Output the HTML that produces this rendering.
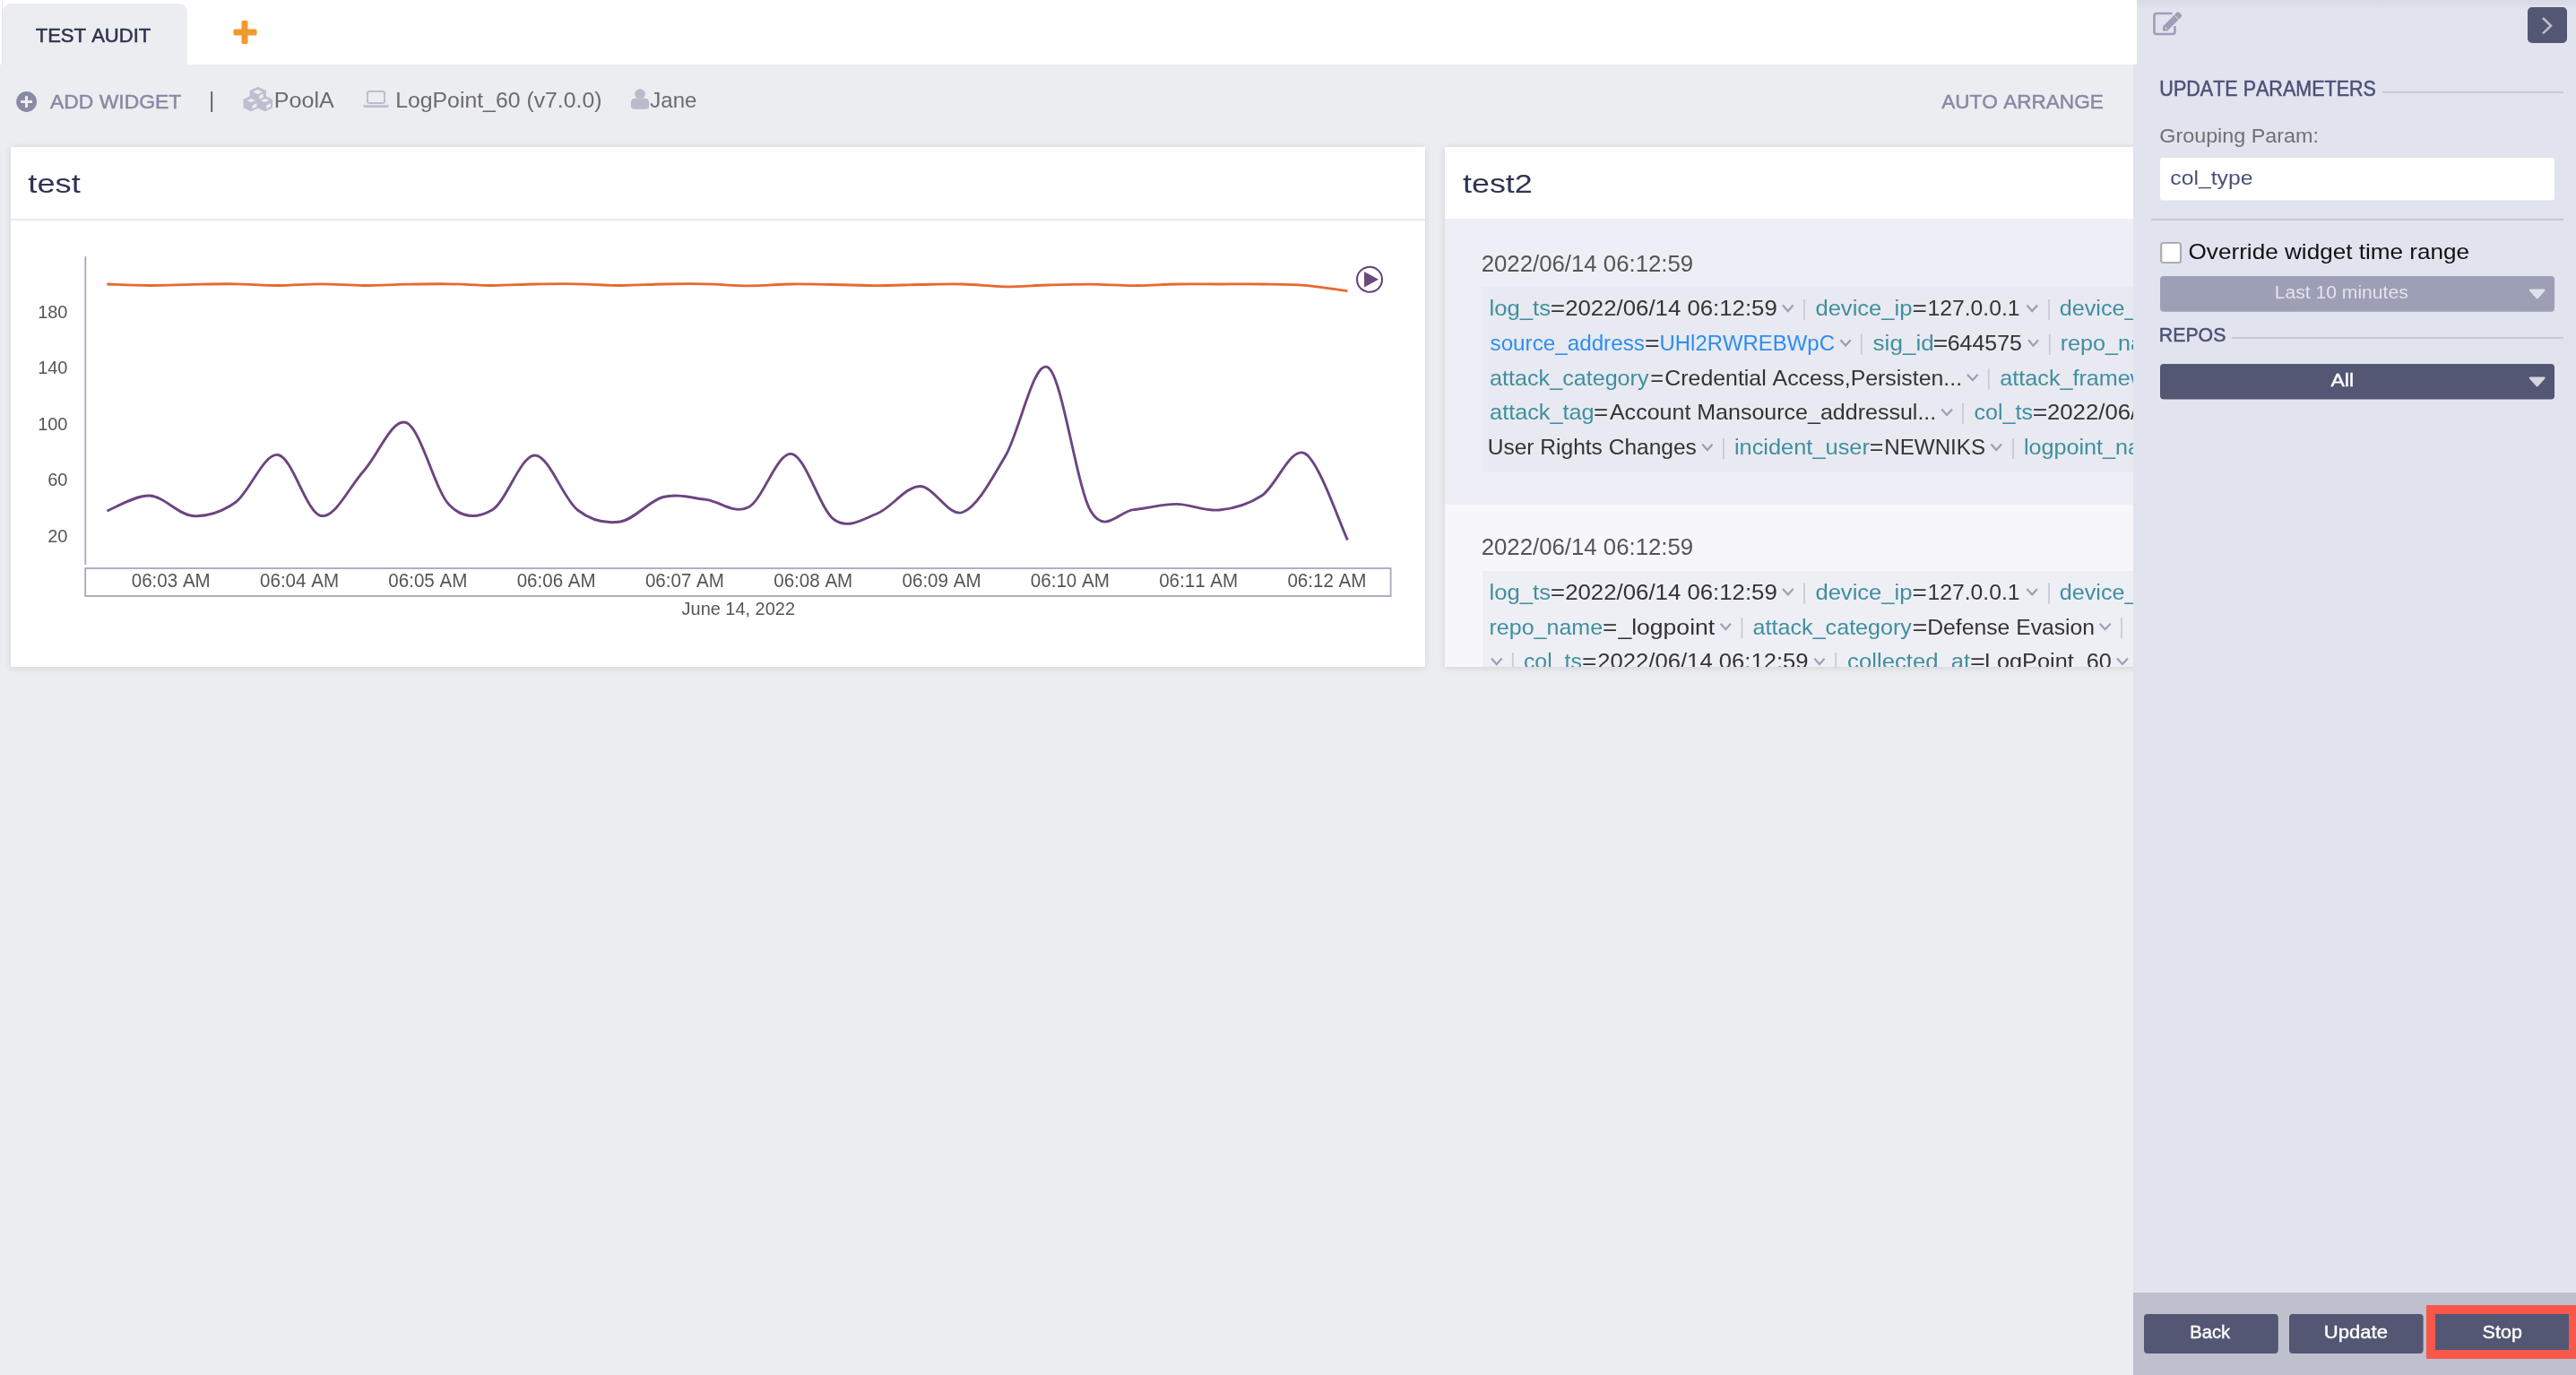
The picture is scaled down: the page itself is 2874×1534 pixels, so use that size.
<!DOCTYPE html>
<html><head><meta charset="utf-8"><title>Dashboard</title>
<style>
html,body{margin:0;padding:0}
body{width:2874px;height:1534px;overflow:hidden;position:relative;background:#ecedf1;font-family:"Liberation Sans",sans-serif}
.a{position:absolute}
svg{will-change:transform}
svg text{font-family:"Liberation Sans",sans-serif;font-kerning:none;white-space:pre}
</style></head><body>

<div class="a" style="left:0;top:0;width:2384px;height:72px;background:#ffffff"></div>
<div class="a" style="left:2px;top:0;width:1px;height:72px;background:#e4e5ea"></div>
<div class="a" style="left:3px;top:4px;width:206px;height:68px;background:#ecedf1;border-radius:9px 9px 0 0"></div>
<div class="a" style="left:12px;top:164px;width:1578px;height:580px;background:#ffffff;box-shadow:0 1px 7px rgba(60,60,70,0.16)"></div>
<div class="a" style="left:12px;top:243.5px;width:1578px;height:2px;background:#e9eaee"></div>
<div class="a" style="left:1612px;top:164px;width:1300px;height:580px;background:#f7f7fb;box-shadow:0 1px 7px rgba(60,60,70,0.16);overflow:hidden"><div class="a" style="left:0;top:0;width:1300px;height:80px;background:#ffffff"></div><div class="a" style="left:0;top:80px;width:1300px;height:319px;background:#eeeff6"></div><div class="a" style="left:42px;top:156px;width:1300px;height:207px;background:#e8e9f1"></div><div class="a" style="left:42px;top:473px;width:1300px;height:120px;background:#eeeef5"></div></div>
<svg class="a" style="left:0;top:0" width="2874" height="1534">
<defs><clipPath id="w2"><rect x="1612" y="164" width="768" height="580"/></clipPath></defs>
<text x="39.70" y="46.90" font-size="22" fill="#2e3450" textLength="128.60" lengthAdjust="spacingAndGlyphs" stroke="#2e3450" stroke-width="0.55">TEST AUDIT</text>
<rect x="269.5" y="23" width="7" height="26" rx="1.5" fill="#f0992e"/>
<rect x="260.5" y="32.5" width="26" height="7" rx="1.5" fill="#f0992e"/>
<circle cx="29.6" cy="113.5" r="11.4" fill="#888ba3"/>
<rect x="23.1" y="112" width="12.9" height="3" fill="#ecedf1"/>
<rect x="28" y="107.2" width="3" height="12.8" fill="#ecedf1"/>
<text x="56.06" y="120.80" font-size="21.6" fill="#868aa5" textLength="146.17" lengthAdjust="spacingAndGlyphs" stroke="#868aa5" stroke-width="0.5">ADD WIDGET</text>
<rect x="235.3" y="102" width="1.8" height="23" fill="#5a5a5a"/>
<path d="M287.8,97.6 L296.2,101.4 L296.2,110 L287.8,113.8 L279.4,110 L279.4,101.4 Z" fill="#bcbfcf" stroke="#bcbfcf" stroke-width="1.4" stroke-linejoin="round"/>
<path d="M280,107.6 L287.8,111.4 L287.8,119.8 L280,123.6 L272.2,119.8 L272.2,111.4 Z" fill="#bcbfcf" stroke="#bcbfcf" stroke-width="1.4" stroke-linejoin="round"/>
<path d="M295.6,107.6 L303.4,111.4 L303.4,119.8 L295.6,123.6 L287.8,119.8 L287.8,111.4 Z" fill="#bcbfcf" stroke="#bcbfcf" stroke-width="1.4" stroke-linejoin="round"/>
<path d="M287.5,99.9 L293,102.4 L287.5,104.9 L282,102.4 Z M289.2,106.6 L293.8,104.4 L293.8,108.6 L289.2,110.6 Z M280.1,109.9 L285,112 L280.1,114.1 L275.2,112 Z M281.5,117.6 L286.4,115.2 L286.4,119 L281.5,121.4 Z M295.7,109.9 L300.6,112 L295.7,114.1 L290.8,112 Z M297.1,117.6 L302,115.2 L302,119 L297.1,121.4 Z" fill="#eceef3"/>
<text x="305.84" y="120.00" font-size="24.2" fill="#6b6b6b" textLength="67.01" lengthAdjust="spacingAndGlyphs">PoolA</text>
<rect x="410" y="102" width="19" height="13" rx="2" fill="none" stroke="#bcbfcf" stroke-width="2"/>
<path d="M405,117.2 L434,117.2 L433,119.4 Q432.6,120 431.6,120 L407.4,120 Q406.4,120 406,119.4 Z" fill="#bcbfcf"/>
<text x="441.16" y="120.00" font-size="24.2" fill="#6b6b6b" textLength="230.37" lengthAdjust="spacingAndGlyphs">LogPoint_60 (v7.0.0)</text>
<circle cx="714.1" cy="105" r="5.8" fill="#b9bbca"/>
<path d="M704,118 L704,114.5 Q704,109.8 709,109.8 L711,109.8 Q714.1,112 717.2,109.8 L719.2,109.8 Q724.2,109.8 724.2,114.5 L724.2,118 Q724.2,121.8 720.5,121.8 L707.7,121.8 Q704,121.8 704,118 Z" fill="#b9bbca"/>
<text x="725.32" y="120.00" font-size="24.2" fill="#6b6b6b" textLength="52.14" lengthAdjust="spacingAndGlyphs">Jane</text>
<text x="2166.16" y="120.90" font-size="21.6" fill="#868aa5" textLength="180.61" lengthAdjust="spacingAndGlyphs" stroke="#868aa5" stroke-width="0.5">AUTO ARRANGE</text>
<text x="31.35" y="215.00" font-size="29.8" fill="#2e3450" textLength="58.41" lengthAdjust="spacingAndGlyphs">test</text>
<rect x="94.4" y="286" width="1.8" height="344" fill="#a7aabe"/>
<rect x="95.2" y="634" width="1456.4" height="31" fill="none" stroke="#a4a8bb" stroke-width="1.8"/>
<text x="42.18" y="354.70" font-size="20.9" fill="#555555" textLength="33.30" lengthAdjust="spacingAndGlyphs">180</text>
<text x="42.18" y="417.20" font-size="20.9" fill="#555555" textLength="33.30" lengthAdjust="spacingAndGlyphs">140</text>
<text x="42.18" y="479.70" font-size="20.9" fill="#555555" textLength="33.30" lengthAdjust="spacingAndGlyphs">100</text>
<text x="53.18" y="542.20" font-size="20.9" fill="#555555" textLength="22.30" lengthAdjust="spacingAndGlyphs">60</text>
<text x="53.19" y="604.70" font-size="20.9" fill="#555555" textLength="22.29" lengthAdjust="spacingAndGlyphs">20</text>
<text x="146.75" y="654.80" font-size="21.3" fill="#555555" textLength="87.99" lengthAdjust="spacingAndGlyphs">06:03 AM</text>
<text x="290.05" y="654.80" font-size="21.3" fill="#555555" textLength="87.99" lengthAdjust="spacingAndGlyphs">06:04 AM</text>
<text x="433.35" y="654.80" font-size="21.3" fill="#555555" textLength="87.99" lengthAdjust="spacingAndGlyphs">06:05 AM</text>
<text x="576.65" y="654.80" font-size="21.3" fill="#555555" textLength="87.99" lengthAdjust="spacingAndGlyphs">06:06 AM</text>
<text x="719.95" y="654.80" font-size="21.3" fill="#555555" textLength="87.99" lengthAdjust="spacingAndGlyphs">06:07 AM</text>
<text x="863.25" y="654.80" font-size="21.3" fill="#555555" textLength="87.99" lengthAdjust="spacingAndGlyphs">06:08 AM</text>
<text x="1006.55" y="654.80" font-size="21.3" fill="#555555" textLength="87.99" lengthAdjust="spacingAndGlyphs">06:09 AM</text>
<text x="1149.85" y="654.80" font-size="21.3" fill="#555555" textLength="87.99" lengthAdjust="spacingAndGlyphs">06:10 AM</text>
<text x="1293.15" y="654.80" font-size="21.3" fill="#555555" textLength="87.99" lengthAdjust="spacingAndGlyphs">06:11 AM</text>
<text x="1436.45" y="654.80" font-size="21.3" fill="#555555" textLength="87.99" lengthAdjust="spacingAndGlyphs">06:12 AM</text>
<text x="760.59" y="685.70" font-size="19.8" fill="#555555" textLength="126.41" lengthAdjust="spacingAndGlyphs">June 14, 2022</text>
<path d="M119.40,317.00 C127.35,317.25 151.22,318.45 167.13,318.50 C183.04,318.55 198.95,317.58 214.86,317.30 C230.76,317.02 246.67,316.60 262.58,316.80 C278.49,317.00 294.40,318.50 310.31,318.50 C326.22,318.50 342.13,316.80 358.04,316.80 C373.95,316.80 389.86,318.43 405.77,318.50 C421.67,318.57 437.58,317.48 453.49,317.20 C469.40,316.92 485.31,316.58 501.22,316.80 C517.13,317.02 533.04,318.47 548.95,318.50 C564.86,318.53 580.77,317.28 596.68,317.00 C612.59,316.72 628.49,316.55 644.40,316.80 C660.31,317.05 676.22,318.47 692.13,318.50 C708.04,318.53 723.95,317.28 739.86,317.00 C755.77,316.72 771.68,316.50 787.59,316.80 C803.50,317.10 819.40,318.77 835.31,318.80 C851.22,318.83 867.13,317.22 883.04,317.00 C898.95,316.78 914.86,317.23 930.77,317.50 C946.68,317.77 962.59,318.60 978.50,318.60 C994.41,318.60 1010.31,317.77 1026.22,317.50 C1042.13,317.23 1058.04,316.62 1073.95,317.00 C1089.86,317.38 1105.77,319.63 1121.68,319.80 C1137.59,319.97 1153.50,318.43 1169.41,318.00 C1185.32,317.57 1201.23,317.10 1217.13,317.20 C1233.04,317.30 1248.95,318.63 1264.86,318.60 C1280.77,318.57 1296.68,317.27 1312.59,317.00 C1328.50,316.73 1344.41,317.00 1360.32,317.00 C1376.23,317.00 1392.14,316.78 1408.04,317.00 C1423.95,317.22 1439.86,317.02 1455.77,318.30 C1471.68,319.58 1495.55,323.63 1503.50,324.70" fill="none" stroke="#e8692e" stroke-width="2.8" stroke-linejoin="round"/>
<path d="M119.40,570.00 C127.35,567.17 151.22,552.08 167.13,553.00 C183.04,553.92 198.95,574.25 214.86,575.50 C230.76,576.75 246.67,571.83 262.58,560.50 C278.49,549.17 294.40,505.00 310.31,507.50 C326.22,510.00 342.13,572.52 358.04,575.50 C373.95,578.48 389.86,542.72 405.77,525.40 C421.67,508.08 437.58,465.28 453.49,471.60 C469.40,477.92 485.31,547.07 501.22,563.30 C517.13,579.53 533.04,578.22 548.95,569.00 C564.86,559.78 580.77,508.00 596.68,508.00 C612.59,508.00 628.49,556.67 644.40,569.00 C660.31,581.33 676.22,584.42 692.13,582.00 C708.04,579.58 723.95,558.60 739.86,554.50 C755.77,550.40 771.68,555.52 787.59,557.40 C803.50,559.28 819.40,574.30 835.31,565.80 C851.22,557.30 867.13,504.07 883.04,506.40 C898.95,508.73 914.86,568.70 930.77,579.80 C946.68,590.90 962.59,579.22 978.50,573.00 C994.41,566.78 1010.31,542.75 1026.22,542.50 C1042.13,542.25 1058.04,577.12 1073.95,571.50 C1089.86,565.88 1105.77,535.72 1121.68,508.80 C1137.59,481.88 1153.50,399.70 1169.41,410.00 C1185.32,420.30 1201.23,544.17 1217.13,570.60 C1233.04,597.03 1248.95,569.97 1264.86,568.60 C1280.77,567.23 1296.68,562.33 1312.59,562.40 C1328.50,562.47 1344.41,570.62 1360.32,569.00 C1376.23,567.38 1392.14,563.22 1408.04,552.70 C1423.95,542.18 1439.86,497.60 1455.77,505.90 C1471.68,514.20 1495.55,586.40 1503.50,602.50" fill="none" stroke="#6b4580" stroke-width="2.9" stroke-linejoin="round"/>
<circle cx="1528" cy="311.8" r="14" fill="#ffffff" stroke="#653f78" stroke-width="2"/>
<path d="M1522,303 L1538,311.8 L1522,320.5 Z" fill="#6d4a7e"/>
<g clip-path="url(#w2)">
<text x="1631.96" y="215.00" font-size="29.8" fill="#2e3450" textLength="77.85" lengthAdjust="spacingAndGlyphs">test2</text>
<text x="1652.70" y="303.00" font-size="25.4" fill="#555555" textLength="236.52" lengthAdjust="spacingAndGlyphs">2022/06/14 06:12:59</text>
<text x="1661.47" y="352.40" font-size="24.2" fill="#3f8f9e" textLength="68.56" lengthAdjust="spacingAndGlyphs">log_ts</text>
<text x="1729.83" y="352.40" font-size="24.2" fill="#333333" textLength="16.35" lengthAdjust="spacingAndGlyphs">=</text>
<text x="1746.20" y="352.40" font-size="24.2" fill="#333333" textLength="236.62" lengthAdjust="spacingAndGlyphs">2022/06/14 06:12:59</text>
<path d="M1989.0,340.6 L1994.8,347.0 L2000.6,340.6" fill="none" stroke="#9c9eb3" stroke-width="2.2"/>
<rect x="2012.1" y="334.0" width="1.8" height="23.2" fill="#c9cad6"/>
<text x="2025.43" y="352.40" font-size="24.2" fill="#3f8f9e" textLength="108.05" lengthAdjust="spacingAndGlyphs">device_ip</text>
<text x="2133.43" y="352.40" font-size="24.2" fill="#333333" textLength="16.35" lengthAdjust="spacingAndGlyphs">=</text>
<text x="2150.52" y="352.40" font-size="24.2" fill="#333333" textLength="103.09" lengthAdjust="spacingAndGlyphs">127.0.0.1</text>
<path d="M2261.4,340.6 L2267.2,347.0 L2273.0,340.6" fill="none" stroke="#9c9eb3" stroke-width="2.2"/>
<rect x="2285.1" y="334.0" width="1.8" height="23.2" fill="#c9cad6"/>
<text x="2297.74" y="352.40" font-size="24.2" fill="#3f8f9e" textLength="149.71" lengthAdjust="spacingAndGlyphs">device_name</text>
<text x="1662.53" y="391.00" font-size="24.2" fill="#2b8ef2" textLength="172.35" lengthAdjust="spacingAndGlyphs">source_address</text>
<text x="1835.01" y="391.00" font-size="24.2" fill="#333333" textLength="16.59" lengthAdjust="spacingAndGlyphs">=</text>
<text x="1851.55" y="391.00" font-size="24.2" fill="#2b8ef2" textLength="195.36" lengthAdjust="spacingAndGlyphs">UHl2RWREBWpC</text>
<path d="M2053.4,379.2 L2059.1,385.6 L2064.8,379.2" fill="none" stroke="#9c9eb3" stroke-width="2.2"/>
<rect x="2075.9" y="372.6" width="1.8" height="23.2" fill="#c9cad6"/>
<text x="2089.57" y="391.00" font-size="24.2" fill="#3f8f9e" textLength="68.11" lengthAdjust="spacingAndGlyphs">sig_id</text>
<text x="2156.59" y="391.00" font-size="24.2" fill="#333333" textLength="16.83" lengthAdjust="spacingAndGlyphs">=</text>
<text x="2172.74" y="391.00" font-size="24.2" fill="#333333" textLength="83.11" lengthAdjust="spacingAndGlyphs">644575</text>
<path d="M2263.0,379.2 L2268.5,385.6 L2274.0,379.2" fill="none" stroke="#9c9eb3" stroke-width="2.2"/>
<rect x="2285.9" y="372.6" width="1.8" height="23.2" fill="#c9cad6"/>
<text x="2298.73" y="391.00" font-size="24.2" fill="#3f8f9e" textLength="127.33" lengthAdjust="spacingAndGlyphs">repo_name</text>
<text x="1662.13" y="429.60" font-size="24.2" fill="#3f8f9e" textLength="177.42" lengthAdjust="spacingAndGlyphs">attack_category</text>
<text x="1841.35" y="429.60" font-size="24.2" fill="#333333" textLength="14.90" lengthAdjust="spacingAndGlyphs">=</text>
<text x="1857.34" y="429.60" font-size="24.2" fill="#333333" textLength="331.73" lengthAdjust="spacingAndGlyphs">Credential Access,Persisten...</text>
<path d="M2195.0,417.8 L2200.8,424.2 L2206.6,417.8" fill="none" stroke="#9c9eb3" stroke-width="2.2"/>
<rect x="2217.9" y="411.2" width="1.8" height="23.2" fill="#c9cad6"/>
<text x="2231.33" y="429.60" font-size="24.2" fill="#3f8f9e" textLength="198.62" lengthAdjust="spacingAndGlyphs">attack_framework</text>
<text x="1662.13" y="468.40" font-size="24.2" fill="#3f8f9e" textLength="116.50" lengthAdjust="spacingAndGlyphs">attack_tag</text>
<text x="1778.14" y="468.40" font-size="24.2" fill="#333333" textLength="16.23" lengthAdjust="spacingAndGlyphs">=</text>
<text x="1795.95" y="468.40" font-size="24.2" fill="#333333" textLength="364.33" lengthAdjust="spacingAndGlyphs">Account Mansource_addressul...</text>
<path d="M2166.2,456.6 L2172.1,463.0 L2178.0,456.6" fill="none" stroke="#9c9eb3" stroke-width="2.2"/>
<rect x="2189.1" y="450.0" width="1.8" height="23.2" fill="#c9cad6"/>
<text x="2202.54" y="468.40" font-size="24.2" fill="#3f8f9e" textLength="65.37" lengthAdjust="spacingAndGlyphs">col_ts</text>
<text x="2267.81" y="468.40" font-size="24.2" fill="#333333" textLength="16.59" lengthAdjust="spacingAndGlyphs">=</text>
<text x="2283.90" y="468.40" font-size="24.2" fill="#333333" textLength="236.62" lengthAdjust="spacingAndGlyphs">2022/06/14 06:12:59</text>
<text x="1659.71" y="507.40" font-size="24.2" fill="#333333" textLength="233.18" lengthAdjust="spacingAndGlyphs">User Rights Changes</text>
<path d="M1899.2,495.6 L1904.9,502.0 L1910.6,495.6" fill="none" stroke="#9c9eb3" stroke-width="2.2"/>
<rect x="1922.0" y="489.0" width="1.8" height="23.2" fill="#c9cad6"/>
<text x="1934.90" y="507.40" font-size="24.2" fill="#3f8f9e" textLength="151.02" lengthAdjust="spacingAndGlyphs">incident_user</text>
<text x="2085.69" y="507.40" font-size="24.2" fill="#333333" textLength="15.63" lengthAdjust="spacingAndGlyphs">=</text>
<text x="2102.22" y="507.40" font-size="24.2" fill="#333333" textLength="112.89" lengthAdjust="spacingAndGlyphs">NEWNIKS</text>
<path d="M2221.4,495.6 L2227.2,502.0 L2233.0,495.6" fill="none" stroke="#9c9eb3" stroke-width="2.2"/>
<rect x="2245.1" y="489.0" width="1.8" height="23.2" fill="#c9cad6"/>
<text x="2257.90" y="507.40" font-size="24.2" fill="#3f8f9e" textLength="165.12" lengthAdjust="spacingAndGlyphs">logpoint_name</text>
<text x="1652.70" y="619.40" font-size="25.4" fill="#555555" textLength="236.52" lengthAdjust="spacingAndGlyphs">2022/06/14 06:12:59</text>
<text x="1661.47" y="668.80" font-size="24.2" fill="#3f8f9e" textLength="68.56" lengthAdjust="spacingAndGlyphs">log_ts</text>
<text x="1729.83" y="668.80" font-size="24.2" fill="#333333" textLength="16.35" lengthAdjust="spacingAndGlyphs">=</text>
<text x="1746.20" y="668.80" font-size="24.2" fill="#333333" textLength="236.62" lengthAdjust="spacingAndGlyphs">2022/06/14 06:12:59</text>
<path d="M1989.0,657.0 L1994.8,663.4 L2000.6,657.0" fill="none" stroke="#9c9eb3" stroke-width="2.2"/>
<rect x="2012.1" y="650.4" width="1.8" height="23.2" fill="#c9cad6"/>
<text x="2025.43" y="668.80" font-size="24.2" fill="#3f8f9e" textLength="108.05" lengthAdjust="spacingAndGlyphs">device_ip</text>
<text x="2133.43" y="668.80" font-size="24.2" fill="#333333" textLength="16.35" lengthAdjust="spacingAndGlyphs">=</text>
<text x="2150.52" y="668.80" font-size="24.2" fill="#333333" textLength="103.09" lengthAdjust="spacingAndGlyphs">127.0.0.1</text>
<path d="M2261.4,657.0 L2267.2,663.4 L2273.0,657.0" fill="none" stroke="#9c9eb3" stroke-width="2.2"/>
<rect x="2285.1" y="650.4" width="1.8" height="23.2" fill="#c9cad6"/>
<text x="2297.74" y="668.80" font-size="24.2" fill="#3f8f9e" textLength="149.71" lengthAdjust="spacingAndGlyphs">device_name</text>
<text x="1661.54" y="707.60" font-size="24.2" fill="#3f8f9e" textLength="126.57" lengthAdjust="spacingAndGlyphs">repo_name</text>
<text x="1788.03" y="707.60" font-size="24.2" fill="#333333" textLength="16.35" lengthAdjust="spacingAndGlyphs">=</text>
<text x="1805.40" y="707.60" font-size="24.2" fill="#333333" textLength="107.79" lengthAdjust="spacingAndGlyphs">_logpoint</text>
<path d="M1919.7,695.8 L1925.3,702.2 L1930.9,695.8" fill="none" stroke="#9c9eb3" stroke-width="2.2"/>
<rect x="1942.5" y="689.2" width="1.8" height="23.2" fill="#c9cad6"/>
<text x="1955.63" y="707.60" font-size="24.2" fill="#3f8f9e" textLength="177.32" lengthAdjust="spacingAndGlyphs">attack_category</text>
<text x="2133.59" y="707.60" font-size="24.2" fill="#333333" textLength="16.83" lengthAdjust="spacingAndGlyphs">=</text>
<text x="2150.27" y="707.60" font-size="24.2" fill="#333333" textLength="186.83" lengthAdjust="spacingAndGlyphs">Defense Evasion</text>
<path d="M2342.7,695.8 L2348.7,702.2 L2354.7,695.8" fill="none" stroke="#9c9eb3" stroke-width="2.2"/>
<rect x="2366.1" y="689.2" width="1.8" height="23.2" fill="#c9cad6"/>
<path d="M1664.0,734.6 L1669.8,741.0 L1675.6,734.6" fill="none" stroke="#9c9eb3" stroke-width="2.2"/>
<rect x="1686.9" y="728.0" width="1.8" height="23.2" fill="#c9cad6"/>
<text x="1699.94" y="746.40" font-size="24.2" fill="#3f8f9e" textLength="64.95" lengthAdjust="spacingAndGlyphs">col_ts</text>
<text x="1765.03" y="746.40" font-size="24.2" fill="#333333" textLength="16.35" lengthAdjust="spacingAndGlyphs">=</text>
<text x="1782.31" y="746.40" font-size="24.2" fill="#333333" textLength="235.30" lengthAdjust="spacingAndGlyphs">2022/06/14 06:12:59</text>
<path d="M2024.4,734.6 L2030.0,741.0 L2035.6,734.6" fill="none" stroke="#9c9eb3" stroke-width="2.2"/>
<rect x="2047.3" y="728.0" width="1.8" height="23.2" fill="#c9cad6"/>
<text x="2061.11" y="746.40" font-size="24.2" fill="#3f8f9e" textLength="137.08" lengthAdjust="spacingAndGlyphs">collected_at</text>
<text x="2198.08" y="746.40" font-size="24.2" fill="#333333" textLength="16.95" lengthAdjust="spacingAndGlyphs">=</text>
<text x="2213.93" y="746.40" font-size="24.2" fill="#333333" textLength="141.96" lengthAdjust="spacingAndGlyphs">LogPoint_60</text>
<path d="M2362.0,734.6 L2368.0,741.0 L2374.0,734.6" fill="none" stroke="#9c9eb3" stroke-width="2.2"/>
</g>
</svg>
<div class="a" style="left:2384px;top:0;width:490px;height:1534px;background:#e1e3ef"></div>
<div class="a" style="left:2380px;top:72px;width:4px;height:1462px;background:#e1e3ef"></div>
<div class="a" style="left:2384px;top:0;width:490px;height:10px;background:linear-gradient(#d7d9e5,#e1e3ef)"></div>
<div class="a" style="left:2380px;top:1442px;width:494px;height:92px;background:#bfc0ce"></div>
<svg class="a" style="left:0;top:0" width="2874" height="1534">
<path d="M2423.5,15 L2406,15 Q2403.5,15 2403.5,17.5 L2403.5,35.5 Q2403.5,38 2406,38 L2424,38 Q2426.5,38 2426.5,35.5 L2426.5,29" fill="none" stroke="#9c9fb6" stroke-width="2.6"/>
<path d="M2413,34.5 L2413,29.5 L2428.5,14 Q2430,12.5 2431.5,14 L2433.5,16 Q2435,17.5 2433.5,19 L2418,34.5 Z" fill="#9c9fb6"/>
<path d="M2415.6,30.5 L2417.4,32.3" stroke="#e1e3ef" stroke-width="1.2"/>
<path d="M2426.5,17.5 L2431,22" stroke="#e1e3ef" stroke-width="1"/>
<rect x="2820" y="8" width="44" height="40" rx="5" fill="#535774"/>
<path d="M2837,20 L2846,28.7 L2837,37.4" fill="none" stroke="#b9bbcb" stroke-width="2.6"/>
<text x="2409.34" y="107.20" font-size="23.3" fill="#4b5175" textLength="241.65" lengthAdjust="spacingAndGlyphs" stroke="#4b5175" stroke-width="0.5">UPDATE PARAMETERS</text>
<rect x="2658" y="102" width="202" height="1.8" fill="#c5c6d1"/>
<text x="2409.23" y="159.30" font-size="22.2" fill="#707070" textLength="177.81" lengthAdjust="spacingAndGlyphs">Grouping Param:</text>
<rect x="2410" y="176" width="440" height="47.6" rx="3" fill="#ffffff"/>
<text x="2421.35" y="206.30" font-size="22.2" fill="#4b5175" textLength="92.15" lengthAdjust="spacingAndGlyphs">col_type</text>
<rect x="2400" y="244" width="460" height="1.8" fill="#c5c6d1"/>
<rect x="2411.2" y="271" width="21.8" height="22" rx="2.5" fill="#ffffff" stroke="#adadb0" stroke-width="2.2"/>
<text x="2441.56" y="288.90" font-size="24.0" fill="#111111" textLength="313.60" lengthAdjust="spacingAndGlyphs">Override widget time range</text>
<rect x="2410" y="308" width="440" height="39.7" rx="4" fill="#9d9fb6"/>
<text x="2537.77" y="332.80" font-size="19.6" fill="#e3e4ec" textLength="148.99" lengthAdjust="spacingAndGlyphs">Last 10 minutes</text>
<path d="M2823,323.6 L2838.4,323.6 L2830.7,332.2 Z" fill="#dfe0ea" stroke="#dfe0ea" stroke-width="2.4" stroke-linejoin="round"/>
<text x="2408.85" y="380.60" font-size="22.5" fill="#4b5175" textLength="74.52" lengthAdjust="spacingAndGlyphs" stroke="#4b5175" stroke-width="0.5">REPOS</text>
<rect x="2489.6" y="376" width="370.4" height="1.8" fill="#c5c6d1"/>
<rect x="2410" y="406" width="440" height="39.6" rx="4" fill="#535774"/>
<text x="2600.46" y="431.00" font-size="20.6" fill="#ffffff" textLength="25.59" lengthAdjust="spacingAndGlyphs" stroke="#ffffff" stroke-width="0.4">All</text>
<path d="M2823,421.6 L2838.4,421.6 L2830.7,430.2 Z" fill="#d4d5e1" stroke="#d4d5e1" stroke-width="2.4" stroke-linejoin="round"/>
<rect x="2707" y="1456" width="180" height="60" fill="#f8574a"/>
<rect x="2392" y="1466" width="149.8" height="44" rx="4" fill="#535774"/>
<text x="2443.35" y="1493.40" font-size="20.8" fill="#ffffff" textLength="44.62" lengthAdjust="spacingAndGlyphs" stroke="#ffffff" stroke-width="0.4">Back</text>
<rect x="2554" y="1466" width="149.6" height="44" rx="4" fill="#535774"/>
<text x="2592.80" y="1493.40" font-size="20.8" fill="#ffffff" textLength="71.18" lengthAdjust="spacingAndGlyphs" stroke="#ffffff" stroke-width="0.4">Update</text>
<rect x="2717" y="1466" width="149.0" height="40" fill="#535774"/>
<text x="2769.62" y="1493.40" font-size="20.8" fill="#ffffff" textLength="44.28" lengthAdjust="spacingAndGlyphs" stroke="#ffffff" stroke-width="0.4">Stop</text>
</svg>
</body></html>
